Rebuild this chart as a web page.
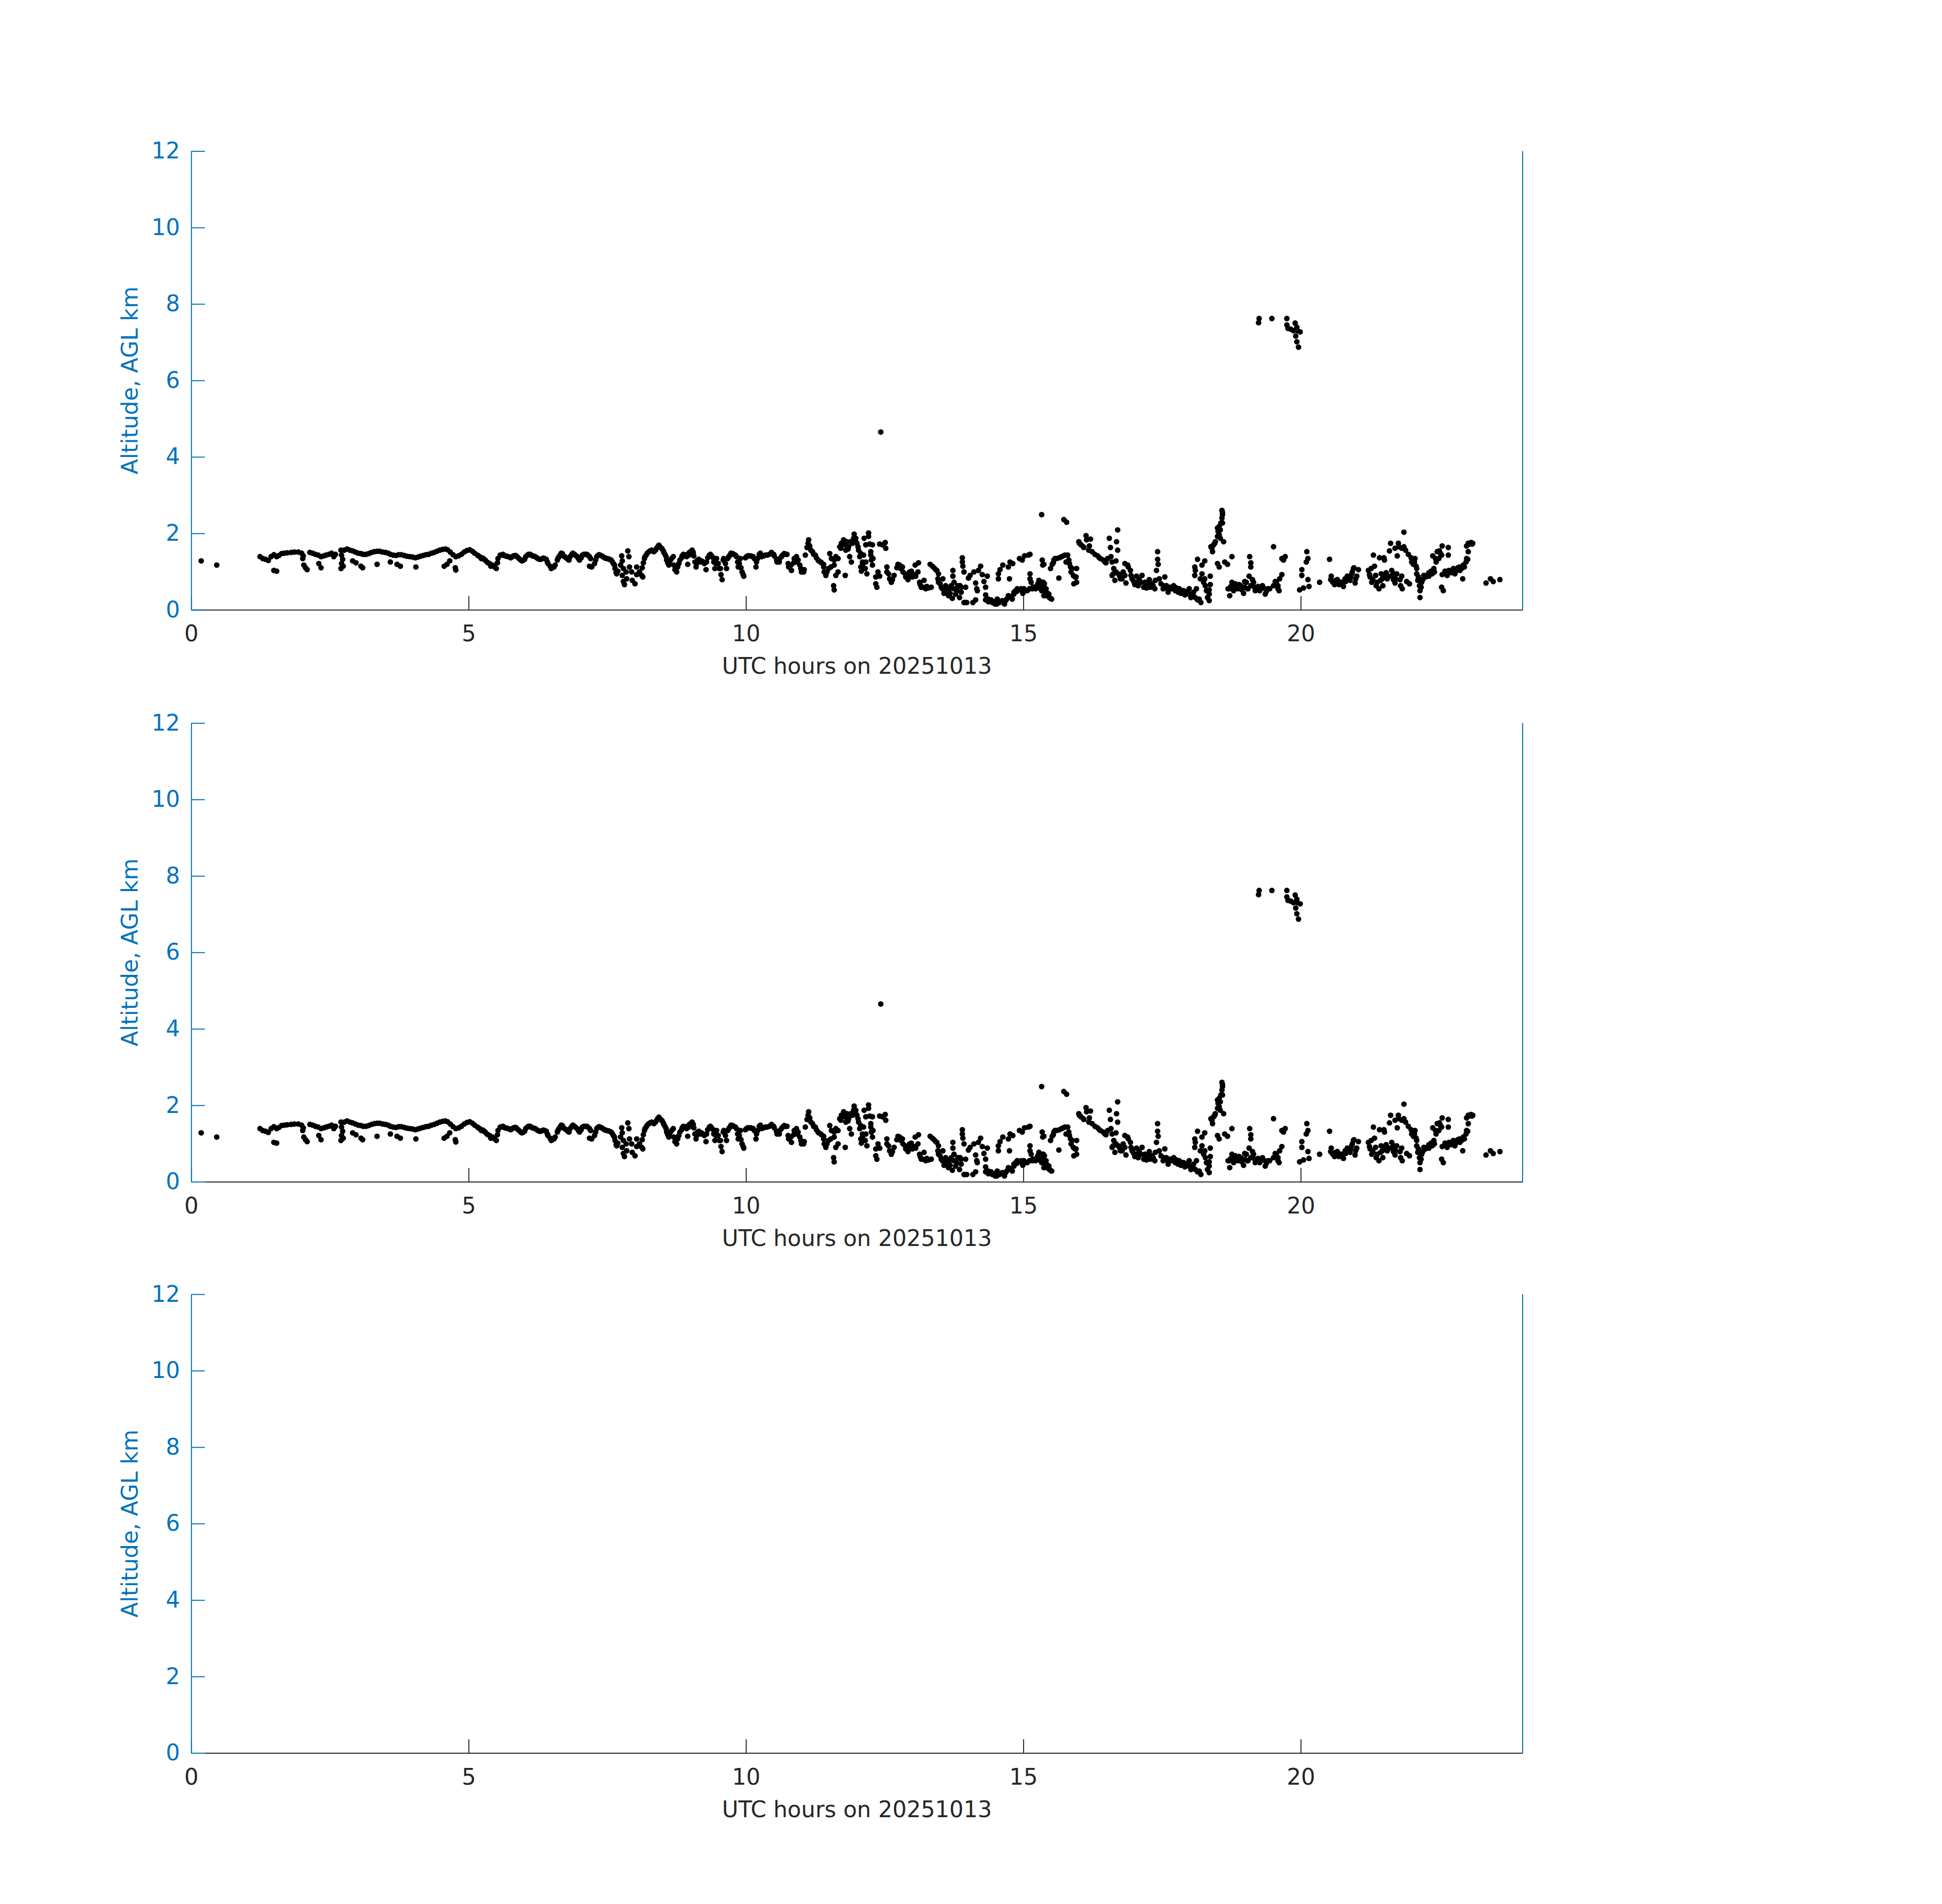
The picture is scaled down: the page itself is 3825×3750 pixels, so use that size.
<!DOCTYPE html>
<html>
<head>
<meta charset="utf-8">
<script src="https://cdn.jsdelivr.net/npm/d3@7"></script>
<style>
  body { margin: 0; background: #fff; }
  svg { display: block; }
</style>
</head>
<body>
<svg id="ceilometer"></svg>
<script>
// cloud base points, [UTC hour, km AGL]
const earlyPoints = [
  [0.18,1.28],[0.46,1.17],
  [1.24,1.39],[1.29,1.34],[1.34,1.32],[1.39,1.29],[1.44,1.39],[1.49,1.44],[1.54,1.39],[1.58,1.42],[1.63,1.47],[1.68,1.48],
  [1.73,1.49],[1.80,1.50],[1.86,1.51],[1.93,1.51],[1.99,1.48],[2.02,1.41],[2.01,1.34],
  [1.49,1.03],[1.54,1.01],[2.03,1.17],[2.06,1.10],[2.09,1.05],
  [2.14,1.50],[2.19,1.48],[2.24,1.45],[2.29,1.43],[2.34,1.39],[2.39,1.41],[2.43,1.43],[2.48,1.45],[2.53,1.48],[2.57,1.39],[2.60,1.45],
  [2.30,1.21],[2.34,1.10],
  [2.70,1.56],[2.71,1.43],[2.73,1.32],[2.71,1.21],[2.74,1.14],[2.70,1.08],
  [2.76,1.56],[2.81,1.59],[2.86,1.56],[2.91,1.54],[2.96,1.51],[3.01,1.48],[3.06,1.47],[3.10,1.45],[3.15,1.45],[3.20,1.47],
  [3.25,1.50],[3.30,1.52],[3.35,1.53],[3.40,1.53],[3.45,1.51],[3.50,1.50],[3.55,1.48],[3.59,1.45],[3.64,1.43],[3.69,1.42],
  [3.74,1.44],[3.79,1.44],[3.84,1.42],[3.89,1.40],[3.94,1.39],[3.99,1.38],[4.04,1.36],[4.09,1.38],[4.13,1.40],[4.18,1.42],
  [4.23,1.44],[4.28,1.45],[4.33,1.48],[4.38,1.50],[4.43,1.53],[4.48,1.56],[4.53,1.58],[4.58,1.59],[4.62,1.57],[4.67,1.51],
  [4.72,1.44],[4.77,1.39],[4.82,1.41],[4.87,1.45],[4.92,1.51],[4.97,1.55],[5.02,1.57],[5.07,1.53],[5.11,1.48],
  [2.91,1.28],[2.97,1.23],[3.06,1.14],[3.09,1.10],[3.35,1.19],[3.59,1.25],[3.71,1.19],[3.77,1.14],[4.05,1.12],
  [4.56,1.14],[4.61,1.19],[4.66,1.28],[4.76,1.10],[4.77,1.04]
];

const morningPoints = [
  [5.16,1.43],[5.21,1.38],[5.26,1.35],[5.30,1.30],[5.35,1.23],[5.40,1.14],[5.45,1.14],[5.50,1.08],[5.52,1.23],[5.53,1.34],
  [5.57,1.43],[5.62,1.45],[5.66,1.41],[5.71,1.39],[5.76,1.36],[5.81,1.41],[5.86,1.41],[5.91,1.34],[5.96,1.28],[6.01,1.32],
  [6.06,1.43],[6.11,1.45],[6.15,1.41],[6.20,1.39],[6.25,1.34],[6.30,1.32],[6.35,1.35],[6.40,1.32],[6.43,1.21],[6.47,1.14],
  [6.51,1.10],[6.56,1.17],[6.60,1.30],[6.63,1.39],[6.67,1.48],[6.71,1.41],[6.76,1.36],[6.81,1.30],[6.86,1.45],[6.91,1.45],
  [6.96,1.39],[7.00,1.30],[7.05,1.43],[7.10,1.45],[7.15,1.43],[7.20,1.34],[7.22,1.12],[7.18,1.14],[7.27,1.21],[7.31,1.39],
  [7.35,1.44],[7.40,1.41],[7.45,1.36],[7.49,1.34],[7.54,1.32],[7.59,1.26],[7.63,1.17],[7.66,0.97],[7.69,1.01],[7.74,1.17],
  [7.76,1.41],[7.77,1.28],[7.79,1.08],[7.77,0.90],[7.79,0.74],[7.81,0.66],[7.84,0.99],[7.85,0.81],[7.87,1.54],[7.89,1.39],
  [7.90,1.12],[7.94,0.99],[7.95,0.77],[8.00,0.68],[8.03,0.92],[8.03,1.12],[8.08,0.99],[8.12,0.90],[8.14,0.86],[8.13,1.10],
  [8.15,1.23],[8.17,1.34],[8.20,1.43],[8.25,1.52],[8.30,1.56],[8.34,1.52],[8.39,1.61],[8.43,1.69],[8.48,1.61],[8.51,1.54],
  [8.54,1.45],[8.57,1.30],[8.61,1.17],[8.64,1.30],[8.69,1.39],[8.72,1.05],[8.75,0.99],[8.79,1.21],[8.84,1.36],[8.87,1.45],
  [8.92,1.44],[8.95,1.19],[8.98,1.50],[9.03,1.56],[9.06,1.41],[9.10,1.12],[9.13,1.30],[9.18,1.25],[9.23,1.25],[9.28,1.05],
  [9.31,1.36],[9.36,1.45],[9.41,1.36],[9.44,1.08],[9.47,1.34],[9.52,1.08],[9.55,0.92],[9.57,0.79],[9.60,1.34],[9.65,1.08],
  [9.69,1.39],[9.73,1.48],[9.78,1.45],[9.83,1.39],[9.86,1.12],[9.90,1.34],[9.93,0.99],[9.96,0.88],[9.99,1.36],[10.03,1.41],
  [10.08,1.41],[10.13,1.39],[10.18,1.12],[10.19,1.25],[10.24,1.45],
  [5.18,1.41],[5.23,1.34],[5.28,1.32],[5.33,1.25],[5.38,1.21],[5.43,1.17],[5.47,1.12],[5.59,1.43],[5.64,1.42],[5.69,1.40],
  [5.74,1.38],[5.79,1.39],[5.84,1.42],[5.88,1.38],[5.94,1.30],[5.98,1.29],[6.03,1.39],[6.08,1.45],[6.13,1.43],[6.18,1.40],
  [6.23,1.36],[6.28,1.32],[6.33,1.34],[6.37,1.34],[6.42,1.25],[6.49,1.08],[6.54,1.12],[6.61,1.34],[6.65,1.43],[6.69,1.47],
  [6.73,1.39],[6.79,1.32],[6.83,1.39],[6.88,1.48],[6.93,1.42],[6.98,1.34],[7.03,1.36],[7.08,1.45],[7.13,1.45],[7.18,1.39],
  [7.29,1.30],[7.33,1.42],[7.37,1.43],[7.42,1.39],[7.47,1.35],[7.52,1.33],[7.57,1.30],[7.61,1.21],[7.64,1.08],[7.67,0.94],
  [8.18,1.39],[8.22,1.48],[8.27,1.54],[8.32,1.54],[8.37,1.56],[8.41,1.65],[8.45,1.65],[8.49,1.59],[8.52,1.50],[8.56,1.39],
  [8.59,1.23],[8.62,1.21],[8.66,1.34],[8.70,1.17],[8.77,1.12],[8.81,1.30],[8.85,1.41],[8.89,1.43],[8.93,1.39],[8.97,1.43],
  [9.01,1.53],[9.05,1.50],[9.08,1.25],[9.11,1.21],[9.15,1.32],[9.20,1.28],[9.25,1.21],[9.29,1.25],[9.34,1.43],[9.38,1.41],
  [9.42,1.25],[9.46,1.21],[9.50,1.21],[9.54,1.08],[9.59,1.30],[9.63,1.21],[9.67,1.34],[9.71,1.43],[9.76,1.47],[9.81,1.43],
  [9.85,1.25],[9.88,1.21],[9.91,1.10],[9.95,0.92],[10.01,1.39],[10.05,1.41],[10.10,1.40],[10.15,1.34],[10.21,1.34],[10.26,1.48]
];

const middayPoints = [
  [10.28,1.39],[10.35,1.43],[10.42,1.45],[10.46,1.50],[10.51,1.41],[10.56,1.25],[10.61,1.34],[10.66,1.43],[10.71,1.45],
  [10.74,1.45],[10.76,1.21],[10.77,1.12],[10.82,1.03],[10.86,1.23],[10.91,1.39],[10.94,1.30],[10.97,1.17],[11.00,0.99],
  [11.05,1.05],[11.07,1.43],[11.10,1.63],[11.13,1.83],[11.17,1.56],[11.22,1.45],[11.27,1.36],[11.31,1.28],[11.36,1.23],
  [11.40,1.19],[11.41,0.99],[11.44,0.90],[11.49,1.08],[11.51,1.47],[11.54,1.34],[11.58,0.63],[11.59,0.52],[11.59,1.17],
  [11.62,0.90],[11.66,0.99],[11.66,1.34],[11.69,1.65],[11.72,1.74],[11.76,1.83],[11.79,0.90],[11.80,1.56],[11.82,1.78],
  [11.85,1.65],[11.87,1.39],[11.90,1.25],[11.92,1.74],[11.95,1.98],[11.98,1.87],[12.00,1.74],[12.03,1.56],[12.05,1.39],
  [12.07,1.12],[12.08,1.01],[12.10,1.25],[12.12,1.43],[12.13,1.87],[12.16,1.70],[12.18,0.94],[12.21,2.01],[12.21,1.92],
  [12.25,1.52],[12.26,1.30],[12.28,1.17],[12.23,1.72],[12.28,1.70],[12.34,0.86],[12.38,0.99],[12.34,0.68],[12.36,0.59],
  [12.41,0.88],[12.41,1.72],[12.46,1.70],[12.51,1.76],[12.52,1.61],[12.54,1.12],[12.57,0.94],[12.62,0.72],[12.67,0.90],
  [12.72,1.10],[12.77,1.17],[12.82,1.12],[12.87,0.94],[12.92,0.79],[12.95,0.99],[13.00,0.86],[13.05,1.17],[13.06,0.88],
  [13.11,1.23],[13.13,0.72],[13.16,0.59],[13.21,0.77],[13.24,0.55],[13.29,0.57],[13.34,0.59],[13.32,1.19],[13.39,1.10],
  [13.44,1.03],[13.47,0.94],[13.47,0.72],[13.52,0.59],[13.55,0.81],[13.57,0.43],[13.62,0.55],[13.65,0.37],[13.70,0.63],
  [13.72,0.30],[13.73,1.03],[13.73,0.88],[13.75,0.72],[13.80,0.50],[13.85,0.32],[13.86,0.63],[13.88,0.46],[13.90,1.36],
  [13.90,1.25],[13.91,1.14],[13.93,0.99],[13.93,0.19],[13.96,0.59],[13.98,0.19],[14.01,0.83],[14.04,0.90],[14.09,0.19],
  [14.11,0.99],[14.14,0.70],[14.14,0.26],[14.16,0.55],[14.17,0.50],[14.19,1.03],[14.23,1.14],[14.26,0.92],[14.29,0.74],
  [14.32,0.59],[14.32,0.39],[14.35,0.88],[14.37,0.28],[14.42,0.26],[14.47,0.21],[14.52,0.15],[14.53,0.28],[14.55,0.94],
  [14.55,0.81],[14.58,1.05],[14.63,1.17],[14.66,0.15],[14.68,0.24],[14.73,0.37],[14.73,1.12],[14.75,0.81],[14.76,1.25],
  [14.80,0.28],[14.81,1.21],[14.83,0.46],[14.86,0.50],[14.89,0.55],[14.93,1.34],[14.96,0.55],[14.98,1.30],[14.99,0.43],
  [15.02,1.41],[15.04,0.50],[15.09,1.43],[15.11,0.55],[15.12,0.94],[15.12,1.45],[15.12,0.81],[15.14,0.72],[15.17,0.59],
  [15.22,0.55],[15.25,0.63],[15.29,0.72],[15.30,0.57],[15.34,1.30],[15.35,1.17],[15.38,0.68],
  [10.32,1.41],[10.38,1.43],[10.45,1.47],[10.50,1.45],[10.55,1.32],[10.60,1.25],[10.64,1.39],[10.69,1.47],[10.81,1.17],
  [10.87,1.34],[10.92,1.25],[10.99,1.08],[11.04,0.99],
  [11.12,1.74],[11.15,1.67],[11.20,1.52],[11.25,1.43],[11.30,1.30],[11.35,1.25],[11.40,1.12],[11.46,0.99],[11.53,1.12],
  [11.59,1.30],[11.62,1.39],[11.71,1.61],[11.74,1.70],[11.79,1.70],[11.84,1.59],[11.89,1.78],[11.94,1.87],[11.98,1.78],
  [12.02,1.65],[12.07,1.47],[12.10,1.17],[12.15,1.08],[12.16,1.25],[12.25,1.43],[12.29,1.34],
  [12.54,0.99],[12.59,0.81],[12.64,0.79],[12.74,1.19],[12.79,1.08],[12.83,0.99],[12.88,0.86],[12.93,0.90],[12.98,1.01],
  [13.03,0.92],[13.10,0.99],[13.14,0.66],[13.19,0.59],[13.26,0.61],[13.36,1.14],[13.42,1.05],
  [13.46,0.81],[13.50,0.68],[13.54,0.55],[13.59,0.46],[13.60,0.63],[13.67,0.55],[13.68,0.43],[13.75,0.55],[13.78,0.41],
  [13.82,0.63],[13.88,0.59],[13.95,0.19],
  [14.32,0.26],[14.37,0.21],[14.44,0.19],[14.49,0.15],[14.57,0.19],[14.62,0.24],[14.70,0.28],[14.76,0.35],[14.83,0.41],
  [14.88,0.48],[14.93,0.52],[15.01,0.55],[15.07,0.50],[15.16,0.55],[15.20,0.59],[15.27,0.63],[15.34,0.72],[15.37,0.55]
];

const afternoonPoints = [
  [15.28,0.77],[15.29,0.63],[15.33,0.50],[15.36,0.72],[15.37,0.37],[15.41,0.55],[15.44,0.43],[15.47,0.32],[15.51,0.28],
  [15.33,2.49],[15.37,1.19],[15.49,1.08],[15.52,1.19],[15.55,1.30],[15.60,1.34],[15.65,1.36],[15.72,1.41],[15.73,2.36],
  [15.78,2.29],[15.64,0.83],[15.77,1.25],[15.80,1.43],[15.82,1.30],[15.85,1.12],[15.86,0.99],[15.90,0.90],[15.91,0.68],
  [15.95,0.86],[15.96,1.08],[16.00,1.78],[16.04,1.70],[16.09,1.63],[16.13,1.94],[16.14,1.83],[16.19,1.67],[16.21,1.85],
  [16.24,1.52],[16.29,1.45],[16.34,1.41],[16.39,1.34],[16.44,1.30],[16.49,1.23],[16.52,1.34],[16.55,1.87],[16.57,1.63],
  [16.58,1.39],[16.60,1.25],[16.62,0.94],[16.63,1.08],[16.65,0.77],[16.68,1.78],[16.70,2.09],[16.70,1.56],[16.67,1.28],
  [16.71,0.94],[16.75,0.81],[16.80,0.99],[16.83,1.21],[16.85,0.70],[16.88,1.17],[16.93,1.03],[16.96,0.81],[17.01,0.66],
  [17.04,0.88],[17.09,0.79],[17.14,0.90],[17.19,0.72],[17.22,0.57],[17.27,0.79],[17.32,0.68],[17.37,0.55],[17.38,0.77],
  [17.40,1.03],[17.42,1.52],[17.42,1.32],[17.43,1.19],[17.45,0.81],[17.48,0.68],[17.52,0.55],[17.55,0.86],[17.58,0.63],
  [17.61,0.46],[17.66,0.55],[17.71,0.63],[17.76,0.57],[17.81,0.55],[17.84,0.43],[17.89,0.50],[17.94,0.41],[17.99,0.55],
  [18.02,0.32],[18.07,0.46],[18.09,1.12],[18.10,1.03],[18.09,0.90],[18.12,0.55],[18.14,1.32],[18.17,0.28],[18.20,0.19],
  [18.19,0.81],[18.22,1.17],[18.22,0.94],[18.25,0.72],[18.27,1.28],[18.27,0.81],[18.28,0.63],[18.30,0.50],[18.32,0.32],
  [18.35,0.24],[18.37,0.88],[18.37,0.66],[18.35,0.52],[18.35,0.41],[18.38,1.65],[18.41,1.52],[18.45,1.74],[18.46,1.78],
  [18.50,2.14],[18.51,2.05],[18.53,2.18],[18.55,1.87],[18.58,2.40],[18.59,2.54],[18.58,2.60],[18.59,2.27],[18.61,1.78],
  [18.50,1.21],[18.53,1.12],[18.63,1.25],[18.68,1.19],[18.76,1.39],[18.76,0.72],[18.72,0.37],[18.71,0.55],[18.77,0.59],
  [18.82,0.68],[18.87,0.55],[18.92,0.63],[18.97,0.43],[18.99,0.74],[19.04,0.55],[19.07,0.88],[19.08,1.39],[19.10,1.23],
  [19.10,1.12],[19.13,0.79],[19.17,0.59],[19.22,0.55],[19.26,0.50],[19.31,0.63],[19.36,0.41],[19.41,0.55],[19.51,1.65],
  [19.51,0.63],[19.54,0.74],[19.59,0.55],[19.62,0.81],[19.66,0.92],[19.66,1.34],[19.72,1.39],[19.69,1.30],
  [20.02,1.05],[20.02,0.90],[19.98,0.52],[20.05,0.57],[20.11,1.52],[20.13,1.34],[20.10,1.25],[20.13,0.79],[20.15,0.61],
  [20.34,0.72],
  [15.26,0.68],[15.31,0.55],[15.34,0.59],[15.39,0.46],[15.42,0.37],[15.46,0.41],[15.49,0.30],[15.54,1.23],[15.57,1.34],
  [15.69,1.39],[15.75,1.43],[15.83,1.21],[15.88,1.08],[15.93,0.86],[15.96,0.72],
  [16.01,1.74],[16.08,1.65],[16.18,1.56],[16.37,1.36],[16.47,1.25],
  [16.60,0.90],[16.67,0.99],[16.73,0.90],[16.78,0.81],[16.83,0.90],[16.89,1.12],[16.94,0.90],[16.99,0.74],
  [17.03,0.72],[17.07,0.63],[17.12,0.72],[17.17,0.59],[17.24,0.68],[17.29,0.59],[17.34,0.63],[17.53,0.63],[17.60,0.55],
  [17.65,0.59],[17.70,0.55],[17.74,0.50],[17.79,0.46],[17.86,0.50],[17.91,0.39],[17.96,0.48],[18.01,0.41],[18.06,0.37],
  [18.10,0.32],[18.14,0.26],
  [18.40,1.61],[18.43,1.70],[18.50,1.92],[18.53,1.96],[18.55,2.09],[18.56,2.27],[18.59,2.49],
  [18.69,0.55],[18.74,0.61],[18.79,0.50],[18.84,0.59],[18.89,0.66],[18.94,0.52],[18.99,0.59],[19.02,0.72],[19.05,0.55],
  [19.10,0.63],[19.15,0.72],[19.18,0.50],[19.23,0.61],[19.28,0.55],[19.33,0.57],[19.38,0.48],[19.44,0.55],[19.56,0.72],
  [19.59,0.63],[19.61,0.50]
];

const eveningPoints = [
  [20.52,1.32],[20.55,0.88],[20.57,0.74],[20.61,0.66],[20.66,0.79],[20.72,0.72],[20.77,0.61],[20.80,0.81],[20.84,0.88],
  [20.89,0.77],[20.92,0.94],[20.95,1.08],[20.98,0.70],[21.01,0.88],[21.04,1.05],[21.24,0.92],[21.27,1.08],[21.30,0.79],
  [21.33,1.14],[21.31,1.43],[21.36,0.63],[21.41,0.55],[21.42,1.36],[21.45,0.94],[21.47,0.81],[21.50,1.36],[21.48,0.63],
  [21.51,1.30],[21.54,0.97],[21.59,0.88],[21.60,1.54],[21.62,1.74],[21.64,1.03],[21.67,0.79],[21.68,0.94],[21.70,0.70],
  [21.73,0.94],[21.74,1.41],[21.76,1.74],[21.77,1.65],[21.79,0.79],[21.82,0.88],[21.83,0.55],[21.86,2.03],[21.86,1.65],
  [21.89,1.56],[21.91,0.74],[21.94,1.45],[21.96,0.68],[21.99,1.36],[22.02,1.30],[22.03,1.19],[22.06,1.34],[22.08,1.14],
  [22.09,0.94],[22.11,0.77],[22.14,0.63],[22.15,0.50],[22.15,0.32],[22.18,0.72],[22.22,0.90],[22.25,0.86],[22.28,0.90],
  [22.31,0.97],[22.35,1.01],[22.40,1.08],[22.38,1.41],[22.43,1.34],[22.44,1.25],[22.46,1.52],[22.50,1.54],[22.52,1.47],
  [22.55,1.67],[22.54,0.59],[22.57,0.50],[22.55,0.92],[22.60,1.01],[22.64,0.90],[22.66,1.63],[22.66,1.43],[22.67,1.03],
  [22.72,0.97],[22.76,0.99],[22.81,1.03],[22.86,1.12],[22.90,1.08],[22.92,0.81],[22.95,1.12],[22.98,1.25],[23.01,1.32],
  [23.02,1.52],[22.99,1.67],[23.02,1.74],[23.07,1.76],[23.10,1.74],
  [23.34,0.70],[23.42,0.81],[23.47,0.74],[23.59,0.79],
  [20.54,0.79],[20.58,0.72],[20.63,0.77],[20.69,0.66],[20.75,0.72],[20.81,0.74],[20.86,0.81],[20.90,0.86],[20.93,0.99],
  [20.96,1.10],[20.99,0.81],[21.22,1.03],[21.25,0.86],[21.28,0.72],[21.35,0.90],[21.38,0.72],[21.44,0.77],[21.53,0.90],
  [21.56,0.81],[21.65,0.90],[21.71,0.81],[21.80,0.63],[21.70,1.61],[21.82,1.61],[22.00,1.25],[22.05,1.25],[22.09,1.08],
  [22.12,0.86],[22.17,0.59],[22.20,0.79],[22.31,0.88],[22.37,0.94],[22.41,0.99],[22.49,1.34],[22.54,1.43],[22.61,0.94],
  [22.70,1.01],[22.75,1.08],[22.78,0.94],[22.83,1.10],[22.87,1.03],[22.93,1.17],[22.99,1.34],[23.04,1.72],[23.09,1.72]
];

const elevatedPoints = [
  [12.43,4.65],
  [19.25,7.62],[19.24,7.51],[19.48,7.62],[19.75,7.62],[19.75,7.45],[19.77,7.36],[19.82,7.34],[19.90,7.50],[19.87,7.30],
  [19.93,7.39],[19.94,7.30],[19.99,7.27],[19.91,7.16],[19.93,7.01],[19.96,6.87]
];

const xTicks = [0, 5, 10, 15, 20];
const yTicks = [0, 2, 4, 6, 8, 10, 12];
const xLabel = "UTC hours on 20251013";
const yLabel = "Altitude, AGL km";
const panelHasData = [true, true, false];

const getConfig = () => {
  const dimensions = {
    width: 3825,
    height: 3750,
    left: 376.6,
    right: 2999,
    panelTops: [297.5, 1424, 2549],
    panelHeight: 903.5
  };

  const svg = d3
    .select("#ceilometer")
    .attr("width", dimensions.width)
    .attr("height", dimensions.height);

  return { container: svg, dimensions };
};

const getPanelScales = (config, top) => {
  const { dimensions } = config;
  const xScale = d3
    .scaleLinear()
    .domain([0, 24])
    .range([dimensions.left, dimensions.right]);
  const yScale = d3
    .scaleLinear()
    .domain([0, 12])
    .range([top + dimensions.panelHeight, top]);
  return { xScale, yScale };
};

const styleAxis = (g, color) => {
  g.attr("font-family", "'DejaVu Sans', sans-serif").attr("font-size", 44);
  g.select(".domain").attr("stroke", color).attr("stroke-width", 2);
  g.selectAll(".tick line").attr("stroke", color).attr("stroke-width", 2);
  g.selectAll(".tick text").attr("fill", color);
};

const drawPanelAxes = (config, scales) => {
  const { container, dimensions } = config;
  const { xScale, yScale } = scales;
  const bottom = yScale(0);
  const top = yScale(12);

  const xAxis = d3
    .axisBottom(xScale)
    .tickValues(xTicks)
    .tickSizeInner(-27)
    .tickSizeOuter(0)
    .tickPadding(31);

  container
    .append("g")
    .attr("transform", `translate(0, ${bottom})`)
    .call(xAxis)
    .call(g => styleAxis(g, "#262626"));

  const yAxis = d3
    .axisLeft(yScale)
    .tickValues(yTicks)
    .tickSizeInner(-27)
    .tickSizeOuter(0)
    .tickPadding(22);

  container
    .append("g")
    .attr("transform", `translate(${dimensions.left}, 0)`)
    .call(yAxis)
    .call(g => styleAxis(g, "#0072bd"));

  // right hand axis of the yyaxis pair, no ticks
  container
    .append("line")
    .attr("x1", dimensions.right)
    .attr("x2", dimensions.right)
    .attr("y1", top)
    .attr("y2", bottom)
    .attr("stroke", "#0072bd")
    .attr("stroke-width", 2);

  container
    .append("text")
    .attr("text-anchor", "middle")
    .attr("font-family", "'DejaVu Sans', sans-serif")
    .attr("font-size", 44)
    .attr("fill", "#262626")
    .attr("x", (dimensions.left + dimensions.right) / 2)
    .attr("y", bottom + 126)
    .text(xLabel);

  container
    .append("text")
    .attr("text-anchor", "middle")
    .attr("font-family", "'DejaVu Sans', sans-serif")
    .attr("font-size", 44)
    .attr("fill", "#0072bd")
    .attr("transform", `translate(270.7, ${(top + bottom) / 2}) rotate(-90)`)
    .text(yLabel);
};

const drawPanelPoints = (config, scales) => {
  const { container } = config;
  const { xScale, yScale } = scales;
  const points = [
    ...earlyPoints,
    ...morningPoints,
    ...middayPoints,
    ...afternoonPoints,
    ...eveningPoints,
    ...elevatedPoints
  ];

  container
    .append("g")
    .selectAll("circle")
    .data(points)
    .join("circle")
    .attr("cx", d => xScale(d[0]))
    .attr("cy", d => yScale(d[1]))
    .attr("r", 5.5)
    .attr("fill", "#000");
};

const renderFigure = () => {
  const config = getConfig();
  config.dimensions.panelTops.forEach((top, idx) => {
    const scales = getPanelScales(config, top);
    drawPanelAxes(config, scales);
    if (panelHasData[idx]) {
      drawPanelPoints(config, scales);
    }
  });
};

renderFigure();
</script>
</body>
</html>
